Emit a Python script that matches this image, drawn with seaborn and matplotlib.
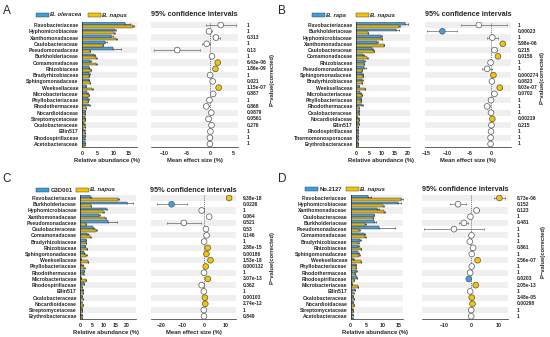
"""
Four-panel differential abundance figure (extended error bar style).
Saves out.png
"""
import numpy as np
import pandas as pd
import matplotlib
matplotlib.use('Agg')
import matplotlib.pyplot as plt
from matplotlib.patches import Rectangle
import seaborn as sns

sns.set_style('white')
plt.rcParams['font.family'] = ['Liberation Sans', 'DejaVu Sans']
plt.rcParams['font.weight'] = 'bold'

BLUE = '#3E9FDE'
YELLOW = '#F6C400'
STRIPE = '#EFEFEF'
W, H = 550, 337

# ---- panel A: B. oleracea vs B. napus ----
fam_a = ["Flavobacteriaceae", "Hyphomicrobiaceae", "Xanthomonadaceae", "Caulobacteraceae",
         "Pseudomonadaceae", "Burkholderiaceae", "Comamonadaceae", "Rhizobiaceae",
         "Bradyrhizobiaceae", "Sphingomonadaceae", "Weeksellaceae", "Microbacteriaceae",
         "Phyllobacteriaceae", "Rhodothermaceae", "Nocardioidaceae", "Streptomycetaceae",
         "Oxalobacteraceae", "Ellin517", "Rhodospirillaceae", "Acetobacteraceae"]
ref_a = [13.8, 10.6, 9.4, 7.4, 9.9, 3.9, 2.7, 2.1, 2.3, 2.1, 1.3, 1.7, 1.9, 2.1, 0.9, 1.0, 0.7, 0.7, 0.8, 0.8]
ref_err_a = [1.6, 0.3, 0.4, 0.7, 2.5, 0.3, 0.2, 0.2, 0.2, 0.2, 0.1, 0.2, 0.2, 0.5, 0.1, 0.1, 0.1, 0.1, 0.1, 0.1]
nap_a = [16.3, 10.1, 10.9, 6.6, 2.4, 4.5, 4.5, 2.9, 2.2, 2.4, 3.3, 2.1, 1.9, 1.3, 1.0, 0.9, 1.0, 0.8, 0.7, 0.7]
nap_err_a = [0.4, 0.3, 0.3, 0.2, 0.2, 0.2, 0.2, 0.1, 0.1, 0.1, 0.1, 0.1, 0.1, 0.1, 0.1, 0.1, 0.1, 0.1, 0.1, 0.1]
eff_a = [2.35, -0.2, 1.3, -0.7, -7.1, 0.45, 1.7, 1.2, 0.05, 0.6, 1.9, 0.7, -0.1, -0.8, 0.3, -0.3, 0.35, 0.1, 0.0, 0.0]
lo_a = [-0.9, -0.8, 0.6, -1.8, -12.1, 0.1, 1.4, 0.9, -0.3, 0.3, 1.6, 0.4, -0.4, -1.6, 0.1, -0.5, 0.15, -0.1, -0.2, -0.2]
hi_a = [5.7, 0.4, 2.2, 0.1, -2.2, 0.8, 2.0, 1.5, 0.4, 0.9, 2.2, 1.0, 0.2, -0.3, 0.5, -0.1, 0.55, 0.3, 0.2, 0.2]
enr_a = ['none'] * 6 + ['napus', 'napus'] + ['none'] * 2 + ['napus'] + ['none'] * 9
p_a = ["1", "1", "0.313", "1", "0.13", "1", "6.43e-06", "1.86e-09", "1", "0.021",
       "1.15e-07", "0.887", "1", "0.868", "0.0879", "0.0561", "0.276", "1", "1", "1"]

# ---- panel B: B. rapa vs B. napus ----
fam_b = ["Flavobacteriaceae", "Burkholderiaceae", "Hyphomicrobiaceae", "Xanthomonadaceae",
         "Caulobacteraceae", "Comamonadaceae", "Rhizobiaceae", "Pseudomonadaceae",
         "Sphingomonadaceae", "Bradyrhizobiaceae", "Weeksellaceae", "Microbacteriaceae",
         "Phyllobacteriaceae", "Rhodothermaceae", "Oxalobacteraceae", "Nocardioidaceae",
         "Ellin517", "Rhodospirillaceae", "Thermomonosporaceae", "Erythrobacteraceae"]
ref_b = [18.7, 15.5, 9.7, 8.0, 6.1, 2.7, 3.2, 3.0, 2.4, 2.4, 1.2, 1.7, 1.8, 2.2, 1.1, 0.9, 1.0, 0.8, 0.8, 0.7]
ref_err_b = [1.5, 1.2, 0.4, 0.3, 0.3, 0.2, 0.2, 0.9, 0.2, 0.2, 0.1, 0.2, 0.2, 0.4, 0.1, 0.1, 0.1, 0.1, 0.1, 0.1]
nap_b = [16.4, 4.5, 9.9, 10.6, 6.8, 4.3, 3.0, 2.4, 2.7, 2.3, 3.5, 2.2, 1.8, 1.2, 1.0, 1.1, 0.8, 0.8, 0.6, 0.6]
nap_err_b = [0.4, 0.2, 0.3, 0.3, 0.2, 0.2, 0.1, 0.1, 0.1, 0.1, 0.1, 0.1, 0.1, 0.1, 0.1, 0.1, 0.1, 0.1, 0.1, 0.1]
eff_b = [-2.8, -11.2, 0.3, 2.7, 0.8, 1.6, -0.1, -0.9, 0.55, 0.2, 2.0, 0.8, 0.0, -0.9, 0.0, 0.3, 0.1, 0.0, -0.1, -0.1]
lo_b = [-6.9, -14.7, -1.0, 2.2, 0.4, 1.2, -0.4, -2.0, 0.3, -0.1, 1.5, 0.5, -0.3, -1.7, -0.2, 0.1, -0.1, -0.2, -0.3, -0.3]
hi_b = [3.7, -7.8, 1.5, 3.3, 1.3, 2.0, 0.2, 0.3, 0.8, 0.5, 2.6, 1.2, 0.3, -0.2, 0.2, 0.5, 0.3, 0.2, 0.1, 0.1]
enr_b = ['none', 'ref', 'none', 'napus', 'none', 'napus', 'none', 'none', 'napus', 'none',
         'napus', 'none', 'none', 'none', 'none', 'napus', 'none', 'none', 'none', 'none']
p_b = ["1", "0.00023", "1", "5.98e-06", "0.215", "0.0156", "1", "1", "0.000274", "0.0823",
       "9.03e-07", "0.0702", "1", "1", "1", "0.00219", "0.215", "1", "1", "1"]

# ---- panel C: G3D001 vs B. napus ----
fam_c = ["Flavobacteriaceae", "Burkholderiaceae", "Hyphomicrobiaceae", "Xanthomonadaceae",
         "Pseudomonadaceae", "Caulobacteraceae", "Comamonadaceae", "Bradyrhizobiaceae",
         "Rhizobiaceae", "Sphingomonadaceae", "Weeksellaceae", "Phyllobacteriaceae",
         "Rhodothermaceae", "Microbacteriaceae", "Rhodospirillaceae", "Ellin517",
         "Oxalobacteraceae", "Nocardioidaceae", "Streptomycetaceae", "Erythrobacteraceae"]
ref_c = [4.2, 20.0, 11.1, 7.9, 12.1, 5.6, 3.0, 2.4, 2.0, 1.6, 0.15, 0.9, 1.4, 0.4, 1.6, 1.0, 0.8, 0.5, 0.7, 0.7]
ref_err_c = [0.4, 2.9, 0.6, 0.4, 3.6, 0.4, 0.3, 0.2, 0.2, 0.2, 0.05, 0.1, 0.2, 0.05, 0.2, 0.1, 0.1, 0.1, 0.1, 0.1]
nap_c = [16.1, 4.5, 9.9, 10.6, 2.4, 6.8, 4.2, 2.3, 3.0, 2.6, 3.3, 1.8, 1.3, 2.3, 0.8, 1.0, 1.0, 1.1, 0.8, 0.6]
nap_err_c = [0.4, 0.2, 0.3, 0.3, 0.2, 0.2, 0.2, 0.1, 0.1, 0.1, 0.1, 0.1, 0.1, 0.1, 0.1, 0.1, 0.1, 0.1, 0.1, 0.1]
eff_c = [11.8, -15.0, -1.0, 2.5, -9.3, 1.0, 1.3, 0.15, 1.8, 1.2, 3.1, 0.9, 0.1, 1.9, -1.0, 0.0, 0.5, 0.7, 0.0, 0.1]
lo_c = [10.8, -22.0, -2.2, 1.8, -17.2, 0.5, 0.8, -0.3, 1.4, 0.8, 2.6, 0.6, -0.3, 1.5, -1.5, -0.4, 0.2, 0.4, -0.3, -0.3]
hi_c = [12.8, -8.0, 0.3, 3.2, -1.5, 1.5, 1.8, 0.6, 2.2, 1.6, 3.6, 1.2, 0.5, 2.3, -0.5, 0.4, 0.8, 1.0, 0.3, 0.5]
enr_c = ['napus', 'ref', 'none', 'none', 'none', 'none', 'none', 'none', 'napus', 'napus',
         'napus', 'napus', 'none', 'napus', 'none', 'none', 'napus', 'napus', 'none', 'none']
p_c = ["9.38e-18", "0.0226", "1", "0.064", "0.521", "0.53", "0.146", "1", "2.88e-15", "0.00186",
       "1.53e-18", "0.000132", "1", "3.07e-13", "0.362", "1", "0.00103", "2.74e-12", "1", "0.849"]

# ---- panel D: No.2127 vs B. napus ----
fam_d = ["Flavobacteriaceae", "Hyphomicrobiaceae", "Xanthomonadaceae", "Caulobacteraceae",
         "Burkholderiaceae", "Pseudomonadaceae", "Comamonadaceae", "Bradyrhizobiaceae",
         "Rhizobiaceae", "Sphingomonadaceae", "Weeksellaceae", "Phyllobacteriaceae",
         "Rhodothermaceae", "Rhodospirillaceae", "Microbacteriaceae", "Ellin517",
         "Oxalobacteraceae", "Nocardioidaceae", "Streptomycetaceae", "Acetobacteraceae"]
ref_d = [5.6, 14.8, 8.4, 7.2, 7.3, 9.0, 4.3, 2.9, 2.4, 2.4, 0.8, 1.6, 1.7, 1.9, 0.3, 1.2, 0.6, 0.7, 0.5, 0.6]
ref_err_d = [0.9, 1.2, 0.5, 0.2, 0.8, 5.0, 0.2, 0.3, 0.2, 0.2, 0.1, 0.2, 0.2, 0.2, 0.05, 0.1, 0.1, 0.1, 0.1, 0.1]
nap_d = [16.0, 10.3, 10.6, 6.9, 4.5, 2.6, 4.5, 2.4, 3.1, 2.7, 3.3, 1.7, 1.4, 0.9, 2.3, 0.8, 1.0, 1.0, 0.7, 0.5]
nap_err_d = [0.4, 0.3, 0.3, 0.2, 0.2, 0.2, 0.2, 0.1, 0.1, 0.1, 0.1, 0.1, 0.1, 0.1, 0.1, 0.1, 0.1, 0.1, 0.1, 0.1]
eff_d = [10.4, -5.0, 1.9, -0.4, -2.8, -6.5, 0.0, -0.6, 0.6, 0.1, 2.3, 0.1, -0.5, -1.0, 1.6, -0.5, 0.1, 0.4, -0.1, -0.1]
lo_d = [8.5, -7.8, 1.1, -0.9, -4.8, -17.8, -0.4, -1.0, 0.1, -0.3, 1.9, -0.2, -0.9, -1.3, 1.2, -0.8, -0.1, 0.2, -0.4, -0.4]
hi_d = [12.3, -1.9, 2.7, 0.1, -1.2, 4.8, 0.4, -0.2, 1.1, 0.5, 2.7, 0.4, -0.1, -0.7, 2.0, -0.2, 0.3, 0.6, 0.2, 0.2]
enr_d = ['napus', 'none', 'none', 'none', 'none', 'none', 'none', 'none', 'none', 'none',
         'napus', 'none', 'none', 'ref', 'napus', 'none', 'napus', 'napus', 'none', 'none']
p_d = ["8.73e-06", "0.152", "0.123", "1", "0.481", "1", "1", "1", "0.861", "1",
       "2.56e-07", "1", "1", "0.0203", "2.05e-13", "1", "3.48e-05", "0.00298", "1", "1"]

ref_names = ["B. oleracea", "B. rapa", "G3D001", "No.2127"]


def px_rect(l, t, r, b):
    return [l / W, 1 - b / H, (r - l) / W, (b - t) / H]


def fig_text(fig, x, y, s, **kw):
    fig.text(x / W, 1 - y / H, s, **kw)


def style_axis(ax):
    ax.tick_params(axis='both', labelsize=3.7, length=1.5, width=0.4, pad=1)
    for side in ['top', 'right']:
        ax.spines[side].set_visible(False)
    for side in ['left', 'bottom']:
        ax.spines[side].set_linewidth(0.5)
        ax.spines[side].set_color('#222222')


def bar_panel(ax, fams, ref, ref_err, nap, nap_err, ref_name, xmax, ticks):
    n = len(fams)
    df = pd.DataFrame({'family': fams * 2,
                       'abund': list(ref) + list(nap),
                       'group': [ref_name] * n + ['B. napus'] * n})
    sns.barplot(data=df, y='family', x='abund', hue='group', orient='h',
                palette=[BLUE, YELLOW], width=0.86, errorbar=None,
                edgecolor='#333333', linewidth=0.3, legend=False, ax=ax)
    y = np.arange(n)
    ax.errorbar(ref, y - 0.215, xerr=[np.zeros(n), ref_err], fmt='none',
                ecolor='#222222', elinewidth=0.4, capsize=0.9, capthick=0.4)
    ax.errorbar(nap, y + 0.215, xerr=[np.zeros(n), nap_err], fmt='none',
                ecolor='#222222', elinewidth=0.4, capsize=0.9, capthick=0.4)
    for i in range(0, n, 2):
        ax.axhspan(i - 0.5, i + 0.5, color=STRIPE, lw=0, zorder=0)
    ax.set_xlim(0, xmax)
    ax.set_ylim(n - 0.5, -0.5)
    ax.set_xticks(ticks)
    ax.set_xlabel('')
    ax.set_ylabel('')
    style_axis(ax)


def ci_panel(ax, fams, eff, lo, hi, enr, xlim, ticks):
    n = len(fams)
    eff = np.array(eff)
    df = pd.DataFrame({'family': fams, 'eff': eff, 'enriched': enr})
    for i in range(0, n, 2):
        ax.axhspan(i - 0.5, i + 0.5, color=STRIPE, lw=0, zorder=0)
    ax.axvline(0, color='#444444', lw=0.5, ls=(0, (1.5, 1.5)), zorder=1)
    ax.errorbar(eff, np.arange(n), xerr=[eff - np.array(lo), np.array(hi) - eff],
                fmt='none', ecolor='#444444', elinewidth=0.4, capsize=1, capthick=0.4, zorder=2)
    sns.scatterplot(data=df.assign(pos=np.arange(n)), x='eff', y='pos', hue='enriched',
                    palette={'none': 'white', 'ref': BLUE, 'napus': YELLOW},
                    s=17, edgecolor='#555555', linewidth=0.5, legend=False, ax=ax, zorder=3)
    ax.set_xlim(*xlim)
    ax.set_ylim(n - 0.5, -0.5)
    ax.set_xticks(ticks)
    ax.set_yticks([])
    ax.set_xlabel('')
    ax.set_ylabel('')
    style_axis(ax)
    ax.spines['left'].set_visible(False)


fig = plt.figure(figsize=(5.5, 3.37), dpi=100)

panels = [
    dict(letter='A', fams=fam_a, ref=ref_a, ref_err=ref_err_a, nap=nap_a, nap_err=nap_err_a,
         eff=eff_a, lo=lo_a, hi=hi_a, enr=enr_a, p=p_a,
         bar=(82, 21.9, 137, 147.1), bxmax=17.6, bticks=[0, 5, 10, 15],
         ci=(151, 21.9, 238, 147.1), cxlim=(-12.8, 6.1), cticks=[-10, -5, 0, 5],
         ox=0, oy=0, leg=(36, 88), legy=15, px=247, plx=272, ply=80, mlab=True),
    dict(letter='B', fams=fam_b, ref=ref_b, ref_err=ref_err_b, nap=nap_b, nap_err=nap_err_b,
         eff=eff_b, lo=lo_b, hi=hi_b, enr=enr_b, p=p_b,
         bar=(356, 21.9, 410, 147.1), bxmax=20.8, bticks=[0, 5, 10, 15, 20],
         ci=(425, 21.9, 511, 147.1), cxlim=(-15.2, 4.6), cticks=[-15, -10, -5, 0],
         ox=275, oy=0, leg=(312, 356), legy=15, px=518, plx=542, ply=78, mlab=True),
    dict(letter='C', fams=fam_c, ref=ref_c, ref_err=ref_err_c, nap=nap_c, nap_err=nap_err_c,
         eff=eff_c, lo=lo_c, hi=hi_c, enr=enr_c, p=p_c,
         bar=(80.3, 194.9, 136, 319.4), bxmax=24, bticks=[0, 5, 10, 15, 20],
         ci=(151, 194.9, 236, 319.4), cxlim=(-24.6, 15), cticks=[-20, -10, 0, 10],
         ox=0, oy=168, leg=(36, 76), legy=190, px=243, plx=272, ply=257, mlab=True),
    dict(letter='D', fams=fam_d, ref=ref_d, ref_err=ref_err_d, nap=nap_d, nap_err=nap_err_d,
         eff=eff_d, lo=lo_d, hi=hi_d, enr=enr_d, p=p_d,
         bar=(350.7, 194.9, 403, 319.4), bxmax=16.5, bticks=[0, 5, 10, 15],
         ci=(422, 194.9, 508, 319.4), cxlim=(-18.4, 13.6), cticks=[-10, 0, 10],
         ox=275, oy=168, leg=(305, 346), legy=189, px=517, plx=543, ply=251, mlab=False),
]

for k, pn in enumerate(panels):
    ax_b = fig.add_axes(px_rect(*pn['bar']))
    bar_panel(ax_b, pn['fams'], pn['ref'], pn['ref_err'], pn['nap'], pn['nap_err'],
              ref_names[k], pn['bxmax'], pn['bticks'])
    ax_c = fig.add_axes(px_rect(*pn['ci']))
    ci_panel(ax_c, pn['fams'], pn['eff'], pn['lo'], pn['hi'], pn['enr'],
             pn['cxlim'], pn['cticks'])

    l, t, r, b = pn['bar']
    fig_text(fig, (l + r) / 2 - 2, b + 13, 'Relative abundance (%)', fontsize=4.2,
             ha='center', va='center')
    cl, ct, cr, cb = pn['ci']
    if pn['mlab']:
        fig_text(fig, (cl + cr) / 2, cb + 13, 'Mean effect size (%)', fontsize=4.2,
                 ha='center', va='center')
    fig_text(fig, (cl + cr) / 2, pn['legy'], '95% confidence intervals', fontsize=5.2,
             ha='center', va='center')

    # p-values, one per row
    n = len(pn['fams'])
    row_h = (cb - ct) / n
    for i, s in enumerate(pn['p']):
        fig_text(fig, pn['px'], ct + (i + 0.5) * row_h, s, fontsize=3.6,
                 ha='left', va='center')
    fig_text(fig, pn['plx'], pn['ply'], 'P\u2212value(corrected)', fontsize=4.2,
             rotation=90, ha='center', va='center')

    # panel letter
    fig_text(fig, pn['ox'] + 7, pn['oy'] + 11, pn['letter'], fontsize=8.5,
             fontweight='normal', ha='center', va='center')

    # legend
    lx1, lx2 = pn['leg']
    ly = pn['legy']
    for lx, col, lab in [(lx1, BLUE, ref_names[k]), (lx2, YELLOW, 'B. napus')]:
        fig.patches.append(Rectangle((lx / W, 1 - (ly + 2.2) / H), 12.5 / W, 4.4 / H,
                                     transform=fig.transFigure, facecolor=col,
                                     edgecolor='#333333', linewidth=0.3))
        italic = 'italic' if lab.startswith('B.') else 'normal'
        fig_text(fig, lx + 14.5, ly, lab, fontsize=4.2, style=italic,
                 ha='left', va='center')

fig.savefig('out.png', dpi=100)
